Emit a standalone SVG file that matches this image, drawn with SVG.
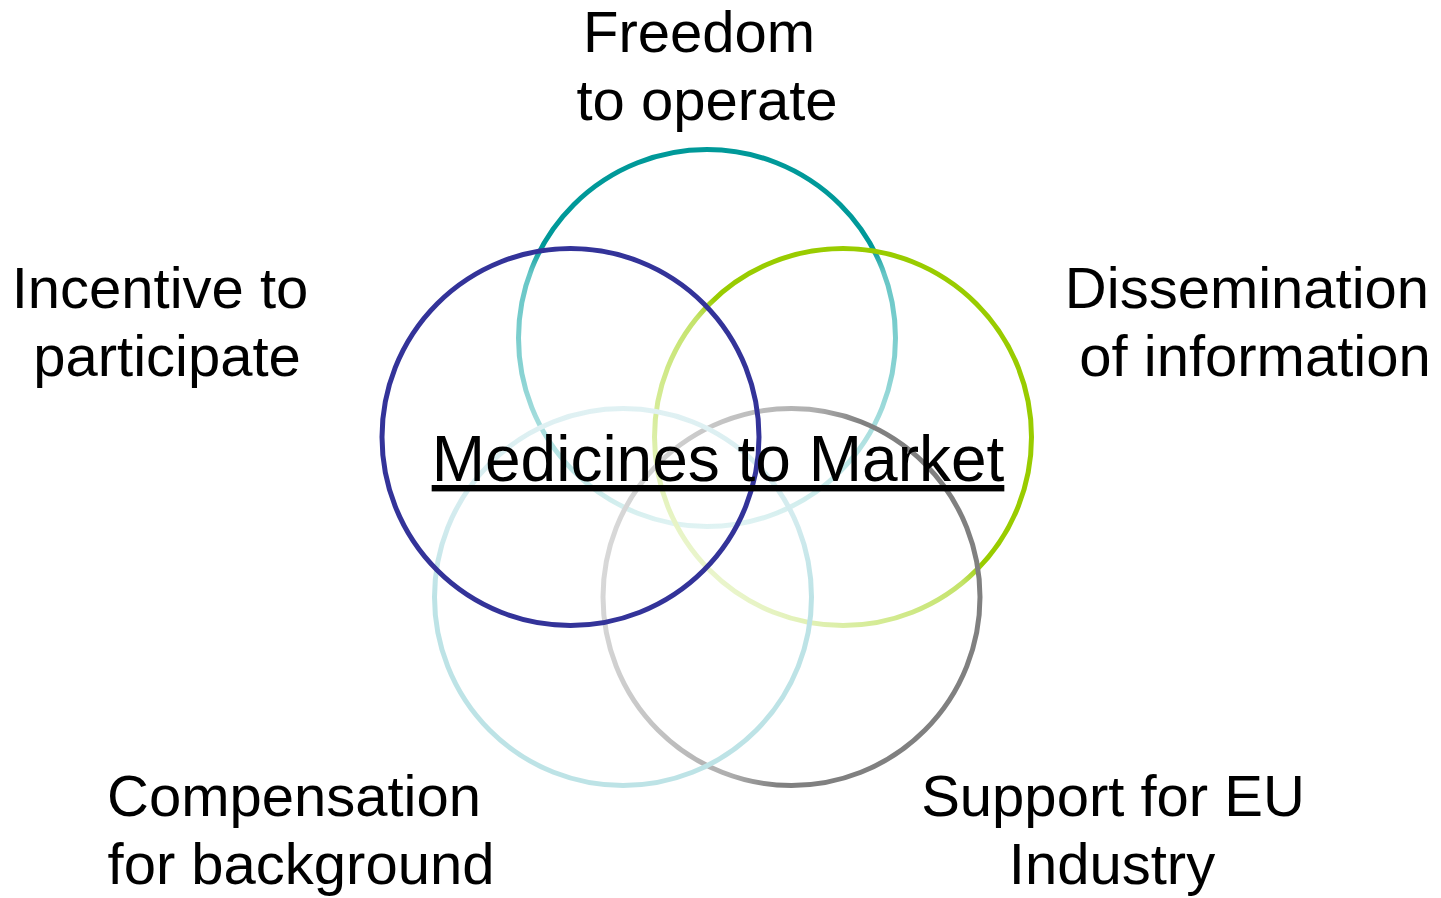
<svg xmlns="http://www.w3.org/2000/svg" width="1441" height="898" viewBox="0 0 1441 898">
<defs>
<linearGradient id="gTeal" gradientUnits="userSpaceOnUse" x1="0" y1="149" x2="0" y2="527">
<stop offset="0" stop-color="#009999"/>
<stop offset="0.26" stop-color="#009999"/>
<stop offset="0.33" stop-color="#66c6c6"/>
<stop offset="0.6" stop-color="#8ad3d3"/>
<stop offset="1" stop-color="#e0f3f3"/>
</linearGradient>
<linearGradient id="gGreen" gradientUnits="userSpaceOnUse" x1="977" y1="303" x2="709" y2="571">
<stop offset="0" stop-color="#99cc00"/>
<stop offset="0.48" stop-color="#99cc00"/>
<stop offset="0.55" stop-color="#c4e36a"/>
<stop offset="0.8" stop-color="#d6ec99"/>
<stop offset="1" stop-color="#eaf5cc"/>
</linearGradient>
<linearGradient id="gGray" gradientUnits="userSpaceOnUse" x1="975" y1="640" x2="607" y2="554">
<stop offset="0" stop-color="#808080"/>
<stop offset="0.42" stop-color="#808080"/>
<stop offset="0.55" stop-color="#aeaeae"/>
<stop offset="0.8" stop-color="#c6c6c6"/>
<stop offset="1" stop-color="#d8d8d8"/>
</linearGradient>
<linearGradient id="gLight" gradientUnits="userSpaceOnUse" x1="0" y1="408" x2="0" y2="786">
<stop offset="0" stop-color="#e0f1f3"/>
<stop offset="0.3" stop-color="#d2ebee"/>
<stop offset="0.5" stop-color="#bde3e6"/>
<stop offset="1" stop-color="#bde3e6"/>
</linearGradient>
</defs>
<style>
.ring{fill:none;stroke-width:5}
.lbl{font-family:"Liberation Sans",Arial,sans-serif;font-size:58px;fill:#000;text-anchor:middle}
.title{font-family:"Liberation Sans",Arial,sans-serif;font-size:64px;fill:#000;text-anchor:middle;text-decoration:underline}
</style>
<rect width="1441" height="898" fill="#fff"/>
<g id="node-freedom"><circle class="ring" cx="707" cy="338" r="188.5" stroke="url(#gTeal)"/></g>
<g id="node-dissemination"><circle class="ring" cx="843" cy="437" r="188.5" stroke="url(#gGreen)"/></g>
<g id="node-support"><circle class="ring" cx="791.5" cy="597" r="188.5" stroke="url(#gGray)"/></g>
<g id="node-compensation"><circle class="ring" cx="623" cy="597" r="188.5" stroke="url(#gLight)"/></g>
<g id="node-incentive"><circle class="ring" cx="570.5" cy="437" r="188.5" stroke="#333399"/></g>
<g id="labels">
<text class="lbl" x="699" y="52">Freedom</text>
<text class="lbl" x="707" y="120">to operate</text>
<text class="lbl" x="160" y="308">Incentive to</text>
<text class="lbl" x="167" y="376">participate</text>
<text class="lbl" x="1247" y="308">Dissemination</text>
<text class="lbl" x="1255" y="376">of information</text>
<text class="lbl" x="294" y="816">Compensation</text>
<text class="lbl" x="301" y="884">for background</text>
<text class="lbl" x="1113" y="816">Support for EU</text>
<text class="lbl" x="1112" y="884">Industry</text>
</g>
<g id="node-center"><text class="title" x="718" y="481">Medicines to Market</text></g>
</svg>
